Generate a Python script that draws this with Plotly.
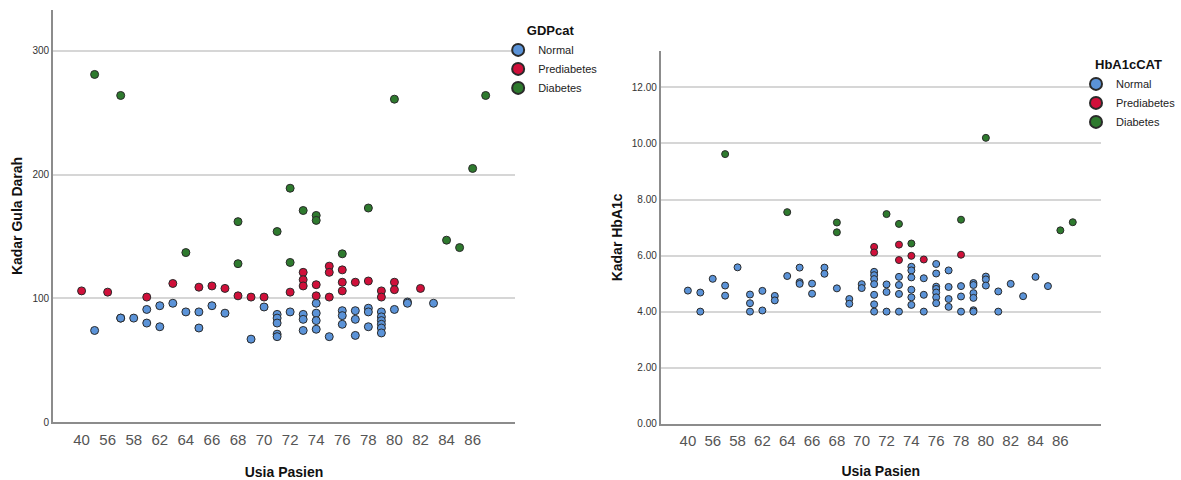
import plotly.graph_objects as go

# ---------------- data ----------------
age_categories = ['40', '54', '56', '57', '58', '60', '62', '63', '64', '65', '66', '67',
                  '68', '69', '70', '71', '72', '73', '74', '75', '76', '77', '78', '79',
                  '80', '81', '82', '83', '84', '85', '86', '87']
age_tick_labels = ['40', '56', '58', '62', '64', '66', '68', '70', '72', '74', '76', '78',
                   '80', '82', '84', '86']

# Left chart: Kadar Gula Darah (GDPcat)
gdp_normal_age = ['54', '57', '57', '58', '60', '60', '62', '62', '63', '64', '65', '65',
                  '66', '67', '69', '70', '71', '71', '71', '71', '71', '72', '73', '73',
                  '73', '74', '74', '74', '74', '75', '76', '76', '76', '77', '77', '77',
                  '78', '78', '78', '79', '79', '79', '79', '79', '79', '80', '81', '81', '83']
gdp_normal_val = [74, 84, 84, 84, 91, 80, 94, 77, 96, 89, 89, 76,
                  94, 88, 67, 93, 87, 84, 80, 71, 69, 89, 87, 83,
                  74, 96, 88, 82, 75, 69, 90, 86, 79, 90, 83, 70,
                  92, 89, 77, 89, 85, 82, 79, 76, 72, 91, 97, 96, 96]

gdp_pre_age = ['40', '56', '60', '63', '65', '66', '67', '68', '69', '70', '72', '73',
               '73', '73', '74', '74', '75', '75', '75', '76', '76', '76', '77', '78',
               '79', '79', '80', '80', '82']
gdp_pre_val = [106, 105, 101, 112, 109, 110, 108, 102, 101, 101, 105, 121,
               115, 110, 111, 102, 126, 121, 101, 123, 113, 106, 113, 114,
               106, 101, 113, 107, 108]

gdp_dm_age = ['54', '57', '64', '68', '68', '71', '72', '72', '73', '74', '74', '76',
              '78', '80', '84', '85', '86', '87']
gdp_dm_val = [281, 264, 137, 162, 128, 154, 189, 129, 171, 167, 163, 136,
              173, 261, 147, 141, 205, 264]

# Right chart: Kadar HbA1c (HbA1cCAT)
hba_normal_age = ['40', '54', '54', '56', '57', '57', '58', '60', '60', '60', '62', '62',
                  '63', '63', '64', '65', '65', '65', '66', '66', '67', '67', '68', '69',
                  '69', '70', '70', '71', '71', '71', '71', '71', '71', '71', '72', '72',
                  '72', '73', '73', '73', '73', '74', '74', '74', '74', '74', '74', '75',
                  '75', '75', '76', '76', '76', '76', '76', '76', '76', '77', '77', '77',
                  '77', '78', '78', '78', '79', '79', '79', '79', '79', '79', '80', '80',
                  '80', '81', '81', '82', '83', '84', '85']
hba_normal_val = [4.75, 4.68, 4.00, 5.17, 4.93, 4.57, 5.58, 4.61, 4.30, 4.00, 4.74, 4.04,
                  4.56, 4.40, 5.27, 5.57, 5.05, 4.99, 5.00, 4.64, 5.57, 5.35, 4.83, 4.45,
                  4.28, 4.98, 4.84, 5.42, 5.30, 5.16, 4.98, 4.60, 4.26, 4.00, 4.97, 4.70,
                  4.00, 5.24, 4.95, 4.63, 4.00, 5.60, 5.47, 5.22, 4.78, 4.51, 4.24, 5.19,
                  4.60, 4.00, 5.70, 5.36, 4.89, 4.81, 4.68, 4.51, 4.30, 5.47, 4.88, 4.45,
                  4.17, 4.91, 4.54, 4.00, 5.02, 4.95, 4.66, 4.49, 4.05, 4.00, 5.25, 5.15,
                  4.93, 4.72, 4.00, 4.99, 4.55, 5.24, 4.91]

hba_pre_age = ['71', '71', '73', '73', '74', '75', '78']
hba_pre_val = [6.31, 6.11, 6.39, 5.84, 5.99, 5.86, 6.03]

hba_dm_age = ['57', '64', '68', '68', '72', '73', '74', '78', '80', '86', '87']
hba_dm_val = [9.62, 7.55, 7.18, 6.83, 7.48, 7.13, 6.43, 7.28, 10.20, 6.90, 7.19]

class_names = ['Normal', 'Prediabetes', 'Diabetes']
class_colors = ['#5b93d8', '#d0103a', '#2e7a2e']

# ---------------- figure ----------------
W, H = 1181, 480
fig = go.Figure()

left_sets = [(gdp_normal_age, gdp_normal_val), (gdp_pre_age, gdp_pre_val), (gdp_dm_age, gdp_dm_val)]
right_sets = [(hba_normal_age, hba_normal_val), (hba_pre_age, hba_pre_val), (hba_dm_age, hba_dm_val)]

for name, color, (xs, ys) in zip(class_names, class_colors, left_sets):
    fig.add_trace(go.Scatter(
        x=xs, y=ys, mode='markers', name=name, legend='legend',
        xaxis='x', yaxis='y',
        marker=dict(size=8, color=color, line=dict(color='#2a2a2a', width=1)),
    ))
for name, color, (xs, ys) in zip(class_names, class_colors, right_sets):
    fig.add_trace(go.Scatter(
        x=xs, y=ys, mode='markers', name=name, legend='legend2',
        xaxis='x2', yaxis='y2',
        marker=dict(size=7, color=color, line=dict(color='#2a2a2a', width=1)),
    ))

xaxis_common = dict(
    type='category', categoryorder='array', categoryarray=age_categories,
    tickmode='array', tickvals=age_tick_labels, ticktext=age_tick_labels,
    range=[-2.2, 33.26], showgrid=False, zeroline=False, automargin=False,
    showline=True, linecolor='#8c8c8c', linewidth=1.5, ticks='', ticklabelstandoff=3,
    tickfont=dict(family='Arial', size=15, color='#555555'),
)
yaxis_common = dict(
    showgrid=True, gridcolor='#d6d6d6', gridwidth=1.5, zeroline=False, automargin=False,
    showline=True, linecolor='#8c8c8c', linewidth=1.5, ticks='',
    tickfont=dict(family='Arial', size=10, color='#333333'),
)
title_font = dict(family='Arial', size=14, color='#111111')

fig.update_layout(
    width=W, height=H,
    margin=dict(l=0, r=0, t=0, b=0),
    paper_bgcolor='white', plot_bgcolor='white',
    showlegend=True,
    xaxis=dict(domain=[53 / W, 516 / W], anchor='y',
               title=dict(text='<b>Usia Pasien</b>', font=title_font, standoff=22),
               **xaxis_common),
    yaxis=dict(domain=[58 / H, 470 / H], anchor='x', range=[0, 333.1],
               tickvals=[0, 100, 200, 300],
               title=dict(text='<b>Kadar Gula Darah</b>', font=title_font, standoff=7),
               **yaxis_common),
    xaxis2=dict(domain=[661.7 / W, 1102.7 / W], anchor='y2',
                title=dict(text='<b>Usia Pasien</b>', font=title_font, standoff=18),
                **xaxis_common),
    yaxis2=dict(domain=[56.3 / H, 429 / H], anchor='x2', range=[0, 13.3],
                tickvals=[0, 2, 4, 6, 8, 10, 12], tickformat='.2f',
                title=dict(text='<b>Kadar HbA1c</b>', font=title_font, standoff=6),
                **yaxis_common),
    legend=dict(
        x=499 / W, y=1 - 18.5 / H, xanchor='left', yanchor='top',
        bgcolor='rgba(0,0,0,0)', itemsizing='constant', itemwidth=30,
        font=dict(family='Arial', size=11, color='#222222'),
        title=dict(text='<b>GDPcat</b>', side='top center', font=dict(family='Arial', size=13, color='#111111')),
        tracegroupgap=0,
    ),
    legend2=dict(
        x=1078 / W, y=1 - 52.5 / H, xanchor='left', yanchor='top',
        bgcolor='rgba(0,0,0,0)', itemsizing='constant', itemwidth=30,
        font=dict(family='Arial', size=11, color='#222222'),
        title=dict(text='<b>HbA1cCAT</b>', side='top center', font=dict(family='Arial', size=13, color='#111111')),
        tracegroupgap=0,
    ),
)

fig.write_html('out.html', config={'displayModeBar': False},
               post_script="document.body.style.margin='0';")
